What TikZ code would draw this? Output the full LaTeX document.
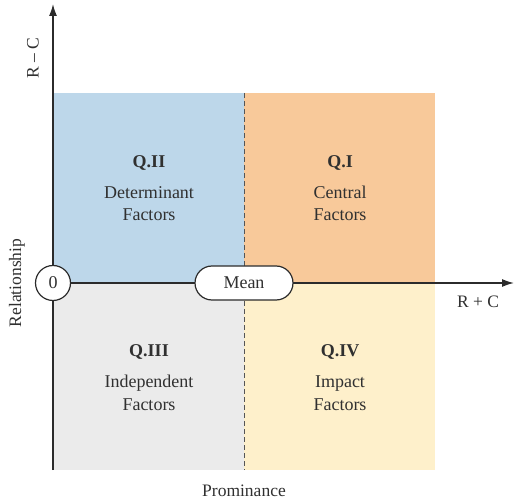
\documentclass[tikz,border=0pt]{standalone}
\usepackage{fontspec}
\setmainfont{Liberation Serif}
\usetikzlibrary{arrows.meta,shapes.misc}
\definecolor{qone}{HTML}{F8C99A}
\definecolor{qtwo}{HTML}{BDD7EA}
\definecolor{qthree}{HTML}{EBEBEB}
\definecolor{qfour}{HTML}{FEF0CB}
\definecolor{axiscol}{HTML}{2B2B2B}
\definecolor{txt}{HTML}{303030}
\tikzset{
  quad/.style={draw=none,inner sep=0pt,outer sep=0pt,anchor=north west},
  qtitle/.style={font=\fontsize{18}{21}\selectfont\bfseries,text=txt,anchor=base},
  qtext/.style={font=\fontsize{18}{21}\selectfont,text=txt,anchor=base},
  axislabel/.style={font=\fontsize{17.5}{21}\selectfont,text=txt},
  axis/.style={line width=1.5pt,draw=axiscol,-{Latex[length=12pt,width=8pt]}},
  marker/.style={draw=axiscol,line width=1.2pt,fill=white,font=\fontsize{18}{21}\selectfont,text=txt}
}
\begin{document}
\begin{tikzpicture}[x=1pt,y=-1pt]
\useasboundingbox (0,0) rectangle (514,502);
% quadrants
\node[quad,fill=qtwo,minimum width=191pt,minimum height=190pt] (q2) at (53,93) {};
\node[quad,fill=qone,minimum width=191pt,minimum height=190pt] (q1) at (244,93) {};
\node[quad,fill=qthree,minimum width=191pt,minimum height=187pt] (q3) at (53,283) {};
\node[quad,fill=qfour,minimum width=191pt,minimum height=187pt] (q4) at (244,283) {};
% dashed mean line
\draw[axiscol!80,line width=1pt,dash pattern=on 5pt off 3pt] (q2.north east) -- (q3.south east);
% axes
\coordinate (ybot) at (53,470);
\coordinate (ytop) at (53,4);
\coordinate (xleft) at (53,283);
\coordinate (xright) at (514,283);
\draw[axis] (ybot) -- (ytop);
\draw[axis] (xleft) -- (xright);
% markers
\node[marker,circle,minimum size=35pt,inner sep=0pt] (zero) at (53,283) {0};
\node[marker,rounded rectangle,minimum width=98pt,minimum height=34pt,inner sep=0pt] (mean) at (244,283) {Mean};
% quadrant texts
\node[qtitle] (t2) at (149,168) {Q.II};
\node[qtext] (d2a) at (149,199) {Determinant};
\node[qtext] (d2b) at (149,221) {Factors};
\node[qtitle] (t1) at (340,168) {Q.I};
\node[qtext] (d1a) at (340,199) {Central};
\node[qtext] (d1b) at (340,221) {Factors};
\node[qtitle] (t3) at (149,357) {Q.III};
\node[qtext] (d3a) at (149,388) {Independent};
\node[qtext] (d3b) at (149,410) {Factors};
\node[qtitle] (t4) at (340,357) {Q.IV};
\node[qtext] (d4a) at (340,388) {Impact};
\node[qtext] (d4b) at (340,410) {Factors};
% axis labels
\node[axislabel,rotate=90] (rc) at (33,58) {R – C};
\node[axislabel,rotate=90] (rel) at (17,283) {Relationship};
\node[axislabel] (rpc) at (478,302) {R + C};
\node[axislabel] (prom) at (244,491) {Prominance};
\end{tikzpicture}
\end{document}
